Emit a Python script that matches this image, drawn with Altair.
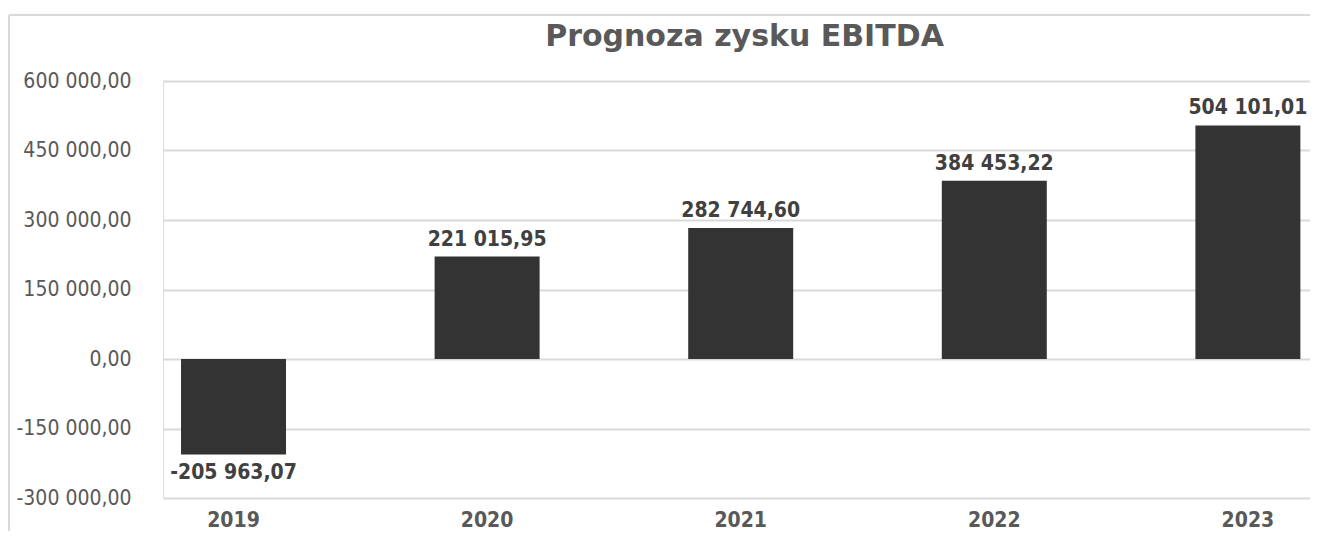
import altair as alt
import pandas as pd

years = ["2019", "2020", "2021", "2022", "2023"]
ebitda = [-205963.07, 221015.95, 282744.60, 384453.22, 504101.01]
y_ticks = [-300000, -150000, 0, 150000, 300000, 450000, 600000]

def pl(v):
    return f"{v:,.2f}".replace(",", " ").replace(".", ",")

df = pd.DataFrame({"year": years, "value": ebitda, "label": [pl(v) for v in ebitda]})

LABEL_FONT = "DejaVu Sans Condensed, DejaVu Sans"

x_enc = alt.X("year:N", sort=years,
              scale=alt.Scale(paddingInner=0.586, paddingOuter=0.0545, align=0.652),
              axis=alt.Axis(title=None, labelAngle=0, labelFont=LABEL_FONT, labelFontSize=21,
                            labelFontWeight="bold", labelColor="#595959", labelPadding=11,
                            ticks=False, domain=False, grid=False))
y_enc = alt.Y("value:Q",
              scale=alt.Scale(domain=[-300000, 600000], nice=False, zero=False),
              axis=alt.Axis(title=None, values=y_ticks, labelFont=LABEL_FONT, labelFontSize=21,
                            labelColor="#595959", labelPadding=32, ticks=False, domain=False,
                            gridColor="#d9d9d9", gridWidth=2,
                            labelExpr="replace(replace(replace(format(datum.value, ',.2f'), ',', ' '), '.', ','), '\u2212', '-')"))

base = alt.Chart(df)

bars = base.mark_bar(color="#333333").encode(x=x_enc, y=y_enc)

pos_labels = base.transform_filter("datum.value >= 0").mark_text(
    baseline="alphabetic", dy=-11, font=LABEL_FONT, fontSize=21, fontWeight="bold", color="#404040"
).encode(x=alt.X("year:N", sort=years), y="value:Q", text="label:N")

neg_labels = base.transform_filter("datum.value < 0").mark_text(
    baseline="top", dy=8, font=LABEL_FONT, fontSize=21, fontWeight="bold", color="#404040"
).encode(x=alt.X("year:N", sort=years), y="value:Q", text="label:N")

border_left = alt.Chart(pd.DataFrame({"k": [0]})).mark_rule(color="#d9d9d9", strokeWidth=2).encode(
    x=alt.value(-154), y=alt.value(-66), y2=alt.value(460))
border_top = alt.Chart(pd.DataFrame({"k": [0]})).mark_rule(color="#d9d9d9", strokeWidth=2).encode(
    x=alt.value(-154), x2=alt.value(1160), y=alt.value(-66))

chart = alt.layer(border_left, border_top, bars, pos_labels, neg_labels).properties(
    width=1147, height=417,
    autosize=alt.AutoSizeParams(type="none"),
    padding={"left": 155, "top": 73, "right": 0, "bottom": 33},
    title=alt.TitleParams("Prognoza zysku EBITDA", font="DejaVu Sans", fontSize=30, fontWeight="bold",
                          color="#595959", anchor="middle", frame="group", baseline="alphabetic",
                          offset=-62, dx=8),
).configure_view(stroke=None).configure(background="white")

chart.save("out.html", embed_options={"renderer": "svg", "actions": False})
